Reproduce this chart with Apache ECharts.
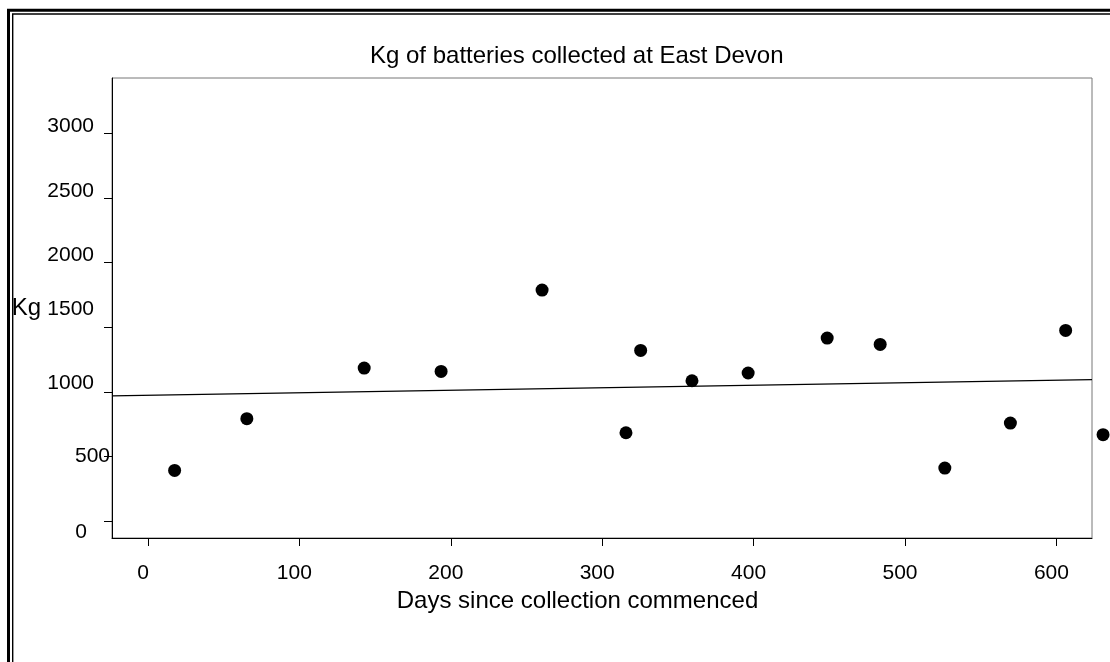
<!DOCTYPE html>
<html><head><meta charset="utf-8">
<script src="https://cdn.jsdelivr.net/npm/echarts@6/dist/echarts.min.js"></script>
<style>html,body{margin:0;padding:0;background:#fff;overflow:hidden}#c{width:1110px;height:662px}</style>
</head><body><div id="c"></div>
<script>
// Data
const days = [17.6, 65.3, 142.8, 193.6, 260.3, 315.7, 325.4, 359.3, 396.4, 448.6, 483.6, 526.3, 569.6, 606.1, 630.8];
const kg = [394, 794, 1185, 1159, 1788, 685, 1321, 1087, 1147, 1417, 1368, 412, 760, 1476, 670];
const trendDays = [-23.76, 623.5];
const trendKg = [970, 1095];
const xTicks = [0, 100, 200, 300, 400, 500, 600];
const yTicks = [0, 500, 1000, 1500, 2000, 2500, 3000];
const titleText = 'Kg of batteries collected at East Devon';
const xName = 'Days since collection commenced';
const yName = 'Kg';

const FONT = '"Liberation Sans", Arial, sans-serif';
const pts = days.map((d, i) => [d, kg[i]]);
const trend = trendDays.map((d, i) => [d, trendKg[i]]);

// per-label nudges (reference labels are irregularly placed)
const yRich = {
  s3000: {padding: [0, 16, 14, 0]},
  s2500: {padding: [0, 16, 13, 0]},
  s2000: {padding: [0, 16, 15, 0]},
  s1500: {padding: [0, 16, 36, 0]},
  s1000: {padding: [0, 16, 17, 0]},
  s500: {padding: [0, 0, 0, 0]},
  s0: {padding: [22, 23, 0, 0]}
};
Object.keys(yRich).forEach(k => { yRich[k].fontSize = 21; yRich[k].fontFamily = FONT; yRich[k].color = '#000'; });

const chart = echarts.init(document.getElementById('c'), null, {renderer: 'canvas'});
chart.setOption({
  animation: false,
  backgroundColor: '#fff',
  title: {
    text: titleText, left: 370, top: 44, padding: 0,
    textStyle: {fontFamily: FONT, fontSize: 24, fontWeight: 'normal', color: '#000'}
  },
  graphic: [
    {type: 'rect', silent: true, shape: {x: 8.5, y: 10.3, width: 2000, height: 2000},
      style: {fill: null, stroke: '#000', lineWidth: 3}},
    {type: 'rect', silent: true, shape: {x: 12.7, y: 14, width: 2000, height: 2000},
      style: {fill: null, stroke: '#000', lineWidth: 1.4}}
  ],
  grid: {left: 112, top: 78, width: 980, height: 460, show: true, borderColor: '#777', borderWidth: 1, containLabel: false},
  xAxis: {
    type: 'value', min: -23.76, max: 623.5,
    name: xName, nameLocation: 'middle', nameGap: 46,
    nameTextStyle: {fontFamily: FONT, fontSize: 24, color: '#000', padding: [0, 49, 0, 0]},
    axisLine: {show: true, onZero: false, lineStyle: {color: '#000', width: 1}},
    axisTick: {show: true, length: 8, inside: false, customValues: xTicks, lineStyle: {color: '#000'}},
    axisLabel: {show: true, customValues: xTicks, margin: 25, fontFamily: FONT, fontSize: 21, color: '#000', padding: [0, 10, 0, 0]},
    splitLine: {show: false}
  },
  yAxis: {
    type: 'value', min: -128.3, max: 3426.6,
    name: yName, nameLocation: 'middle', nameGap: 71, nameRotate: 0,
    nameTextStyle: {fontFamily: FONT, fontSize: 24, color: '#000', padding: [0, 0, 6, 0]},
    axisLine: {show: true, onZero: false, lineStyle: {color: '#000', width: 1}},
    axisTick: {show: true, length: 8, inside: false, customValues: yTicks, lineStyle: {color: '#000'}},
    axisLabel: {show: true, customValues: yTicks, margin: 2, fontFamily: FONT, fontSize: 21, color: '#000',
      formatter: v => '{s' + v + '|' + v + '}', rich: yRich},
    splitLine: {show: false}
  },
  series: [
    {type: 'line', data: trend, symbol: 'none', clip: false, lineStyle: {color: '#000', width: 1.2}, silent: true},
    {type: 'scatter', data: pts, symbol: 'circle', symbolSize: 13, clip: false,
      itemStyle: {color: '#000', opacity: 1}}
  ]
});
</script></body></html>
